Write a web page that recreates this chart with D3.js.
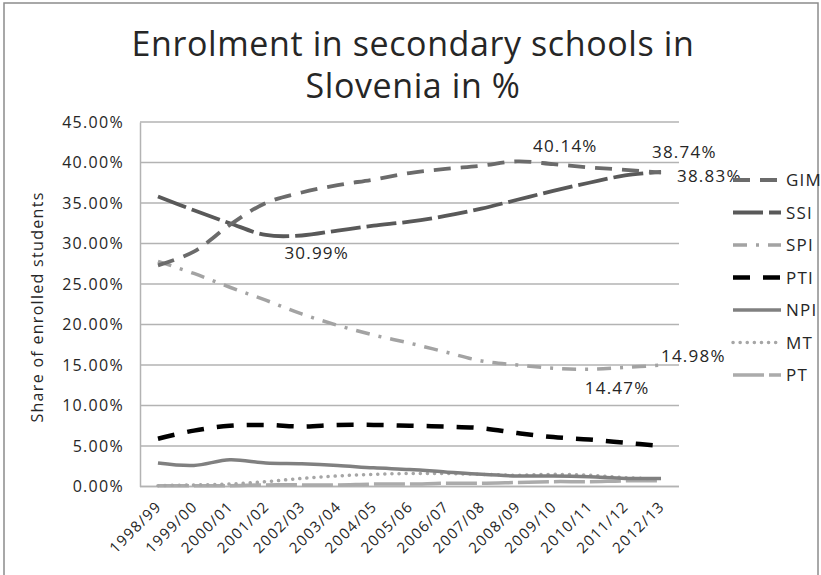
<!DOCTYPE html>
<html>
<head>
<meta charset="utf-8">
<script src="https://cdn.jsdelivr.net/npm/d3@7"></script>
<style>
  body { margin: 0; background: #fff; }
  svg text { font-family: "Open Sans", sans-serif; fill: #262626; }
</style>
</head>
<body>
<div id="chart"></div>
<script>
const years = ["1998/99", "1999/00", "2000/01", "2001/02", "2002/03", "2003/04", "2004/05",
    "2005/06", "2006/07", "2007/08", "2008/09", "2009/10", "2010/11", "2011/12", "2012/13"];

const seriesNames = ["GIM", "SSI", "SPI", "PTI", "NPI", "MT", "PT"];

const gim = [27.3, 29.0, 32.3, 35.0, 36.3, 37.2, 37.9, 38.7, 39.2, 39.6, 40.14, 39.8, 39.4, 39.1, 38.74];
const ssi = [35.8, 34.1, 32.5, 31.05, 30.99, 31.6, 32.2, 32.7, 33.4, 34.3, 35.4, 36.5, 37.5, 38.4, 38.83];
const spi = [27.8, 26.3, 24.6, 23.0, 21.3, 19.9, 18.7, 17.7, 16.6, 15.5, 15.0, 14.6, 14.47, 14.7, 14.98];
const pti = [5.9, 6.9, 7.5, 7.6, 7.4, 7.6, 7.6, 7.5, 7.4, 7.2, 6.6, 6.1, 5.8, 5.4, 5.0];
const npi = [2.9, 2.6, 3.3, 2.9, 2.8, 2.6, 2.3, 2.1, 1.8, 1.5, 1.3, 1.3, 1.2, 1.0, 1.0];
const mt = [0.1, 0.2, 0.3, 0.6, 1.0, 1.3, 1.5, 1.6, 1.6, 1.5, 1.4, 1.5, 1.4, 1.1, 0.9];
const pt = [0.1, 0.1, 0.1, 0.2, 0.2, 0.2, 0.3, 0.3, 0.4, 0.4, 0.5, 0.6, 0.6, 0.7, 0.7];

const yTicks = [0, 5, 10, 15, 20, 25, 30, 35, 40, 45];

// data labels: series, year index, offset of the label from the point
const annotations = [
    { s: "GIM", i: 10, dx: 48, dy: -9, anchor: "middle" },
    { s: "GIM", i: 14, dx: -9, dy: -15, anchor: "start" },
    { s: "SSI", i: 14, dx: 16, dy: 10, anchor: "start" },
    { s: "SSI", i: 4, dx: 15, dy: 24, anchor: "middle" },
    { s: "SPI", i: 12, dx: 28, dy: 25, anchor: "middle" },
    { s: "SPI", i: 14, dx: 0, dy: -3, anchor: "start" }
];

const width = 821, height = 575;

const styles = {
    GIM: { color: "#6b6b6b", dash: "17,10", w: 3.8 },
    SSI: { color: "#595959", dash: "30,6", w: 3.8 },
    SPI: { color: "#a3a3a3", dash: "14,9,3,9", w: 3.5 },
    PTI: { color: "#000000", dash: "17,13", w: 4.5 },
    NPI: { color: "#808080", dash: null, w: 3.5 },
    MT: { color: "#a6a6a6", dash: "0.1,7", w: 3.5, cap: "round" },
    PT: { color: "#ababab", dash: "31,5", w: 3.5 }
};

const values = { GIM: gim, SSI: ssi, SPI: spi, PTI: pti, NPI: npi, MT: mt, PT: pt };

const svg = d3.select("#chart").append("svg")
    .attr("width", width)
    .attr("height", height);

// outer frame
svg.append("rect")
    .attr("x", 4).attr("y", 3)
    .attr("width", 814).attr("height", 600)
    .attr("fill", "none")
    .attr("stroke", "#8c8c8c")
    .attr("stroke-width", 1.5);

const x = d3.scalePoint()
    .domain(years)
    .range([140, 679])
    .padding(0.5);

const y = d3.scaleLinear()
    .domain([0, 45])
    .range([486.5, 122]);

// title
const title = svg.append("text")
    .attr("text-anchor", "middle")
    .style("font-size", "34px")
    .style("letter-spacing", "0.6px");
title.append("tspan").attr("x", 413).attr("y", 56).text("Enrolment in secondary schools in");
title.append("tspan").attr("x", 413).attr("y", 98).text("Slovenia in %");

// gridlines
svg.append("g")
    .selectAll("line")
    .data(yTicks)
    .enter().append("line")
    .attr("x1", 140).attr("x2", 679)
    .attr("y1", d => y(d)).attr("y2", d => y(d))
    .attr("stroke", "#b3b3b3")
    .attr("stroke-width", 1.5);

// y axis
const yAxis = svg.append("g")
    .attr("transform", "translate(140,0)")
    .call(d3.axisLeft(y).tickValues(yTicks).tickSize(0).tickPadding(16)
        .tickFormat(d => d.toFixed(2) + "%"));
yAxis.select(".domain").attr("stroke", "#b3b3b3").attr("stroke-width", 1.5);
yAxis.selectAll("text")
    .style("font-size", "16px")
    .style("letter-spacing", "1.3px")
    .attr("fill", "#262626")
    .style("font-family", "\"Open Sans\", sans-serif");

// x axis
const xAxis = svg.append("g")
    .attr("transform", "translate(0,486.5)")
    .call(d3.axisBottom(x).tickSize(0).tickPadding(0));
xAxis.select(".domain").attr("d", "M140,0H679").attr("stroke", "#b3b3b3").attr("stroke-width", 1.5);
xAxis.selectAll("text")
    .style("font-size", "15px")
    .style("letter-spacing", "1.3px")
    .attr("fill", "#262626")
    .style("font-family", "\"Open Sans\", sans-serif")
    .attr("text-anchor", "end")
    .attr("dy", null)
    .attr("y", 0)
    .attr("transform", "translate(4,21) rotate(-45)");

// y axis title
svg.append("text")
    .attr("transform", "translate(43,307) rotate(-90)")
    .attr("text-anchor", "middle")
    .style("font-size", "16px")
    .style("letter-spacing", "1.3px")
    .text("Share of enrolled students");

const line = d3.line()
    .x((d, i) => x(years[i]))
    .y(d => y(d))
    .curve(d3.curveCatmullRom.alpha(0.5));

// draw from back to front
const drawOrder = ["PT", "MT", "NPI", "PTI", "SPI", "SSI", "GIM"];
svg.append("g")
    .selectAll("path")
    .data(drawOrder)
    .enter().append("path")
    .attr("d", s => line(values[s]))
    .attr("fill", "none")
    .attr("stroke", s => styles[s].color)
    .attr("stroke-width", s => styles[s].w)
    .attr("stroke-dasharray", s => styles[s].dash)
    .attr("stroke-linecap", s => styles[s].cap || "butt");

// data labels
svg.append("g")
    .selectAll("text")
    .data(annotations)
    .enter().append("text")
    .attr("x", d => x(years[d.i]) + d.dx)
    .attr("y", d => y(values[d.s][d.i]) + d.dy)
    .attr("text-anchor", d => d.anchor)
    .style("font-size", "17px")
    .style("letter-spacing", "1.2px")
    .attr("fill", "#404040")
    .text(d => values[d.s][d.i].toFixed(2) + "%");

// legend
const legend = svg.append("g").attr("id", "legend");
const legendY = d3.scalePoint().domain(seriesNames).range([180, 375]);

legend.selectAll("line")
    .data(seriesNames)
    .enter().append("line")
    .attr("x1", 733).attr("x2", 781)
    .attr("y1", s => legendY(s)).attr("y2", s => legendY(s))
    .attr("stroke", s => styles[s].color)
    .attr("stroke-width", s => styles[s].w)
    .attr("stroke-dasharray", s => styles[s].dash)
    .attr("stroke-linecap", s => styles[s].cap || "butt");

legend.selectAll("text")
    .data(seriesNames)
    .enter().append("text")
    .attr("x", 786)
    .attr("y", s => legendY(s) + 6)
    .style("font-size", "17px")
    .style("letter-spacing", "1.2px")
    .text(s => s);
</script>
</body>
</html>
